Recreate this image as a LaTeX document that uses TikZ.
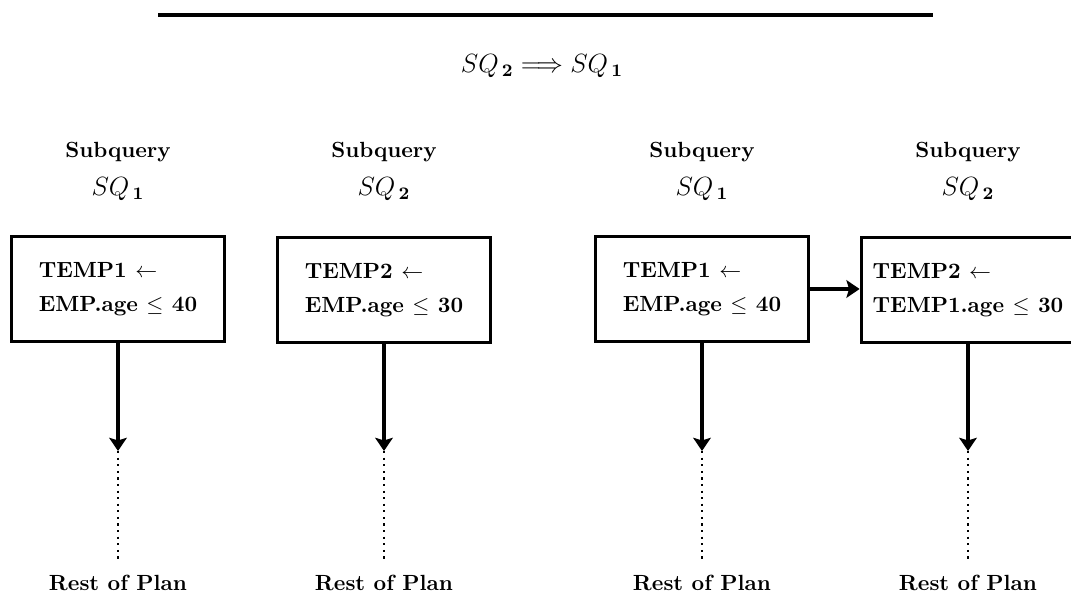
\documentclass[tikz,border=0pt]{standalone}
\usepackage{amsmath, amssymb}
\usepackage{tikz}
\usetikzlibrary{positioning, arrows.meta, calc}

\begin{document}
\begin{tikzpicture}[x=0.016cm, y=-0.016cm,
  subbox/.style={draw, line width=1.4pt, minimum width=3.42cm, minimum height=1.68cm, align=left, font=\bfseries},
  lbl/.style={font=\bfseries, inner sep=1pt},
  sqlbl/.style={font=\large, inner sep=1pt},
  flow/.style={-{Stealth[length=6pt, width=8pt, inset=1.2pt]}, line width=1.4pt},
  rest/.style={dotted, line width=1pt, shorten >=6pt}
]
  \useasboundingbox (0,0) rectangle (1071,599);

  \draw[line width=1.5pt] (158,15) -- (933,15);
  \node[sqlbl] (order) at (542,66) {$SQ_{\,\mathbf{2}}\Longrightarrow SQ_{\,\mathbf{1}}$};

  % left: each subquery on its own
  \node[lbl]   (sub1) at (118,152) {Subquery};
  \node[sqlbl] (sq1)  at (118,189) {$SQ_{\,\mathbf{1}}$};
  \node[subbox] (box1) at (118,289) {TEMP1 $\leftarrow$\\[3.5pt] EMP.age $\leq$ 40};

  \node[lbl]   (sub2) at (384,152) {Subquery};
  \node[sqlbl] (sq2)  at (384,189) {$SQ_{\,\mathbf{2}}$};
  \node[subbox] (box2) at (384,290) {TEMP2 $\leftarrow$\\[3.5pt] EMP.age $\leq$ 30};

  % right: SQ2 reads the result of SQ1
  \node[lbl]   (sub3) at (702,152) {Subquery};
  \node[sqlbl] (sq3)  at (702,189) {$SQ_{\,\mathbf{1}}$};
  \node[subbox] (box3) at (702,289) {TEMP1 $\leftarrow$\\[3.5pt] EMP.age $\leq$ 40};

  \node[lbl]   (sub4) at (968,152) {Subquery};
  \node[sqlbl] (sq4)  at (968,189) {$SQ_{\,\mathbf{2}}$};
  \node[subbox] (box4) at (968,290) {TEMP2 $\leftarrow$\\[3.5pt] TEMP1.age $\leq$ 30};

  \draw[flow] (box3.east) -- (box3.east -| box4.west);

  \coordinate (tip1) at (118,451);
  \coordinate (tip2) at (384,451);
  \coordinate (tip3) at (702,451);
  \coordinate (tip4) at (968,451);

  \node[lbl] (rest1) at (118,583) {Rest of Plan};
  \node[lbl] (rest2) at (384,583) {Rest of Plan};
  \node[lbl] (rest3) at (702,583) {Rest of Plan};
  \node[lbl] (rest4) at (968,583) {Rest of Plan};

  \foreach \i in {1,...,4} {
    \draw[flow] (box\i) -- (tip\i);
    \draw[rest] (tip\i) -- (rest\i);
  }
\end{tikzpicture}
\end{document}
